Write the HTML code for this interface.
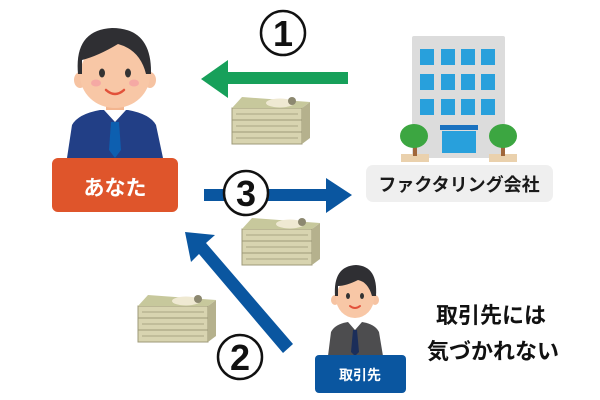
<!DOCTYPE html>
<html><head><meta charset="utf-8"><style>
html,body{margin:0;padding:0;background:#fff;width:600px;height:400px;overflow:hidden}
svg{display:block}
text{font-family:"Liberation Sans","Noto Sans CJK JP",sans-serif;font-weight:bold}
</style></head><body>
<svg width="600" height="400" viewBox="0 0 600 400">
<defs>
<g id="money">
  <g>
    <path d="M2 38 L10 30 L78 30 L80 38 L72 50 L4 50 Z" fill="#c9c5a0"/>
    <path d="M2 38 L72 38 L72 50 L2 50 Z" fill="#d8d4b0" stroke="#9e9a78" stroke-width="1"/>
    <path d="M2 26 L72 26 L72 38 L2 38 Z" fill="#d8d4b0" stroke="#9e9a78" stroke-width="1"/>
    <path d="M2 14 L72 14 L72 26 L2 26 Z" fill="#d8d4b0" stroke="#9e9a78" stroke-width="1"/>
    <path d="M72 14 L80 8 L80 44 L72 50 Z" fill="#b5b18d"/>
    <path d="M2 14 L12 3 L80 8 L72 14 Z" fill="#c7c89c"/>
    <ellipse cx="50" cy="9" rx="14" ry="4.5" fill="#efe9d2"/>
    <circle cx="62" cy="7" r="4" fill="#8c8870"/>
    <line x1="6" y1="20" x2="68" y2="20" stroke="#aaa684" stroke-width="1"/>
    <line x1="6" y1="32" x2="68" y2="32" stroke="#aaa684" stroke-width="1"/>
    <line x1="6" y1="44" x2="68" y2="44" stroke="#aaa684" stroke-width="1"/>
  </g>
</g>
</defs>

<path d="M67 158 L72 125 Q78 114 100 110 L128 110 Q150 114 156 125 L163 158 Z" fill="#223f86"/>
<path d="M104 110 L115 122 L126 110 L124 108 L106 108 Z" fill="#fff"/>
<path d="M111 122 L119 122 L121 150 L115 158 L109 150 Z" fill="#0d5fb0"/>
<rect x="106" y="100" width="18" height="10" fill="#f3b58f"/>
<ellipse cx="80" cy="80" rx="6" ry="8" fill="#f6c3a2"/>
<ellipse cx="150" cy="80" rx="6" ry="8" fill="#f6c3a2"/>
<ellipse cx="115" cy="75" rx="35" ry="33" fill="#f8c7a6"/>
<path d="M78 74 Q74 30 112 28 Q152 28 151 74 L146 74 Q140 50 118 44 Q98 56 82 60 L82 74 Z" fill="#2f2f33"/>
<ellipse cx="102" cy="73" rx="3" ry="4.5" fill="#333"/>
<ellipse cx="128" cy="73" rx="3" ry="4.5" fill="#333"/>
<ellipse cx="96" cy="83" rx="5" ry="3.5" fill="#f5a9a4"/>
<ellipse cx="134" cy="83" rx="5" ry="3.5" fill="#f5a9a4"/>
<path d="M106 90 Q115 98 124 90" stroke="#e2513a" stroke-width="2.5" fill="none" stroke-linecap="round"/>
<rect x="52" y="158" width="126" height="54" rx="6" fill="#df552b"/>
<text x="115" y="195" font-size="21" fill="#fff" text-anchor="middle">あなた</text>

<circle cx="283" cy="33" r="22" fill="#fff" stroke="#111" stroke-width="2.5"/>
<text x="283" y="46" font-size="36" fill="#111" text-anchor="middle">1</text>
<path d="M348 72 L228 72 L228 60 L201 79 L228 98 L228 84 L348 84 Z" fill="#17a05a"/>
<use href="#money" x="230" y="94"/>

<rect x="412" y="36" width="93" height="122" rx="2" fill="#dcdcdc"/>
<g fill="#28a0dc">
<rect x="420" y="49" width="14" height="16"/><rect x="441" y="49" width="14" height="16"/><rect x="461" y="49" width="14" height="16"/><rect x="481" y="49" width="14" height="16"/>
<rect x="420" y="74" width="14" height="16"/><rect x="441" y="74" width="14" height="16"/><rect x="461" y="74" width="14" height="16"/><rect x="481" y="74" width="14" height="16"/>
<rect x="420" y="99" width="14" height="16"/><rect x="441" y="99" width="14" height="16"/><rect x="461" y="99" width="14" height="16"/><rect x="481" y="99" width="14" height="16"/>
<rect x="442" y="131" width="34" height="22"/>
</g>
<rect x="440" y="125" width="38" height="5" fill="#1a72c0"/>
<rect x="401" y="154" width="28" height="8" fill="#ead1ad"/>
<rect x="489" y="154" width="28" height="8" fill="#ead1ad"/>
<rect x="413" y="144" width="4" height="12" fill="#a0673a"/>
<rect x="501" y="144" width="4" height="12" fill="#a0673a"/>
<ellipse cx="414" cy="136" rx="14" ry="12" fill="#3ca641"/>
<ellipse cx="503" cy="136" rx="14" ry="12" fill="#3ca641"/>
<rect x="366" y="165" width="187" height="37" rx="7" fill="#efefef"/>
<text x="459" y="191" font-size="18" fill="#1a1a1a" text-anchor="middle">ファクタリング会社</text>

<path d="M204 189 L326 189 L326 178 L352 195 L326 213 L326 201 L204 201 Z" fill="#0a56a0"/>
<circle cx="246" cy="193" r="22" fill="#fff" stroke="#111" stroke-width="2.5"/>
<text x="246" y="206" font-size="36" fill="#111" text-anchor="middle">3</text>
<use href="#money" x="240" y="215"/>

<path d="M293 344 L206 243 L215 235 L185 232 L191 262 L199 254 L283 353 Z" fill="#0a56a0"/>
<use href="#money" x="136" y="292"/>
<circle cx="240" cy="357" r="22" fill="#fff" stroke="#111" stroke-width="2.5"/>
<text x="240" y="370" font-size="36" fill="#111" text-anchor="middle">2</text>

<path d="M328 356 L331 332 Q335 324 348 322 L362 322 Q375 324 379 332 L383 356 Z" fill="#4d4d4f"/>
<path d="M348 322 L355 330 L362 322 Z" fill="#fff"/>
<path d="M353 330 L357 330 L359 352 L355 356 L351 352 Z" fill="#1b2e5a"/>
<ellipse cx="335" cy="300" rx="4" ry="5" fill="#f6c3a2"/>
<ellipse cx="375" cy="300" rx="4" ry="5" fill="#f6c3a2"/>
<ellipse cx="355" cy="298" rx="19" ry="20" fill="#f8c7a6"/>
<path d="M335 296 Q333 266 356 265 Q378 266 376 296 L372 296 Q368 282 358 280 Q346 286 338 286 L338 296 Z" fill="#2f2f33"/>
<ellipse cx="348" cy="296" rx="2" ry="3" fill="#333"/>
<ellipse cx="362" cy="296" rx="2" ry="3" fill="#333"/>
<path d="M350 306 Q355 310 360 306" stroke="#e2513a" stroke-width="2" fill="none" stroke-linecap="round"/>
<rect x="315" y="355" width="91" height="38" rx="4" fill="#0a56a0"/>
<text x="360" y="380" font-size="14" fill="#fff" text-anchor="middle">取引先</text>

<text x="491" y="323" font-size="22" fill="#111" text-anchor="middle">取引先には</text>
<text x="493" y="359" font-size="22" fill="#111" text-anchor="middle">気づかれない</text>
</svg>
</body></html>
